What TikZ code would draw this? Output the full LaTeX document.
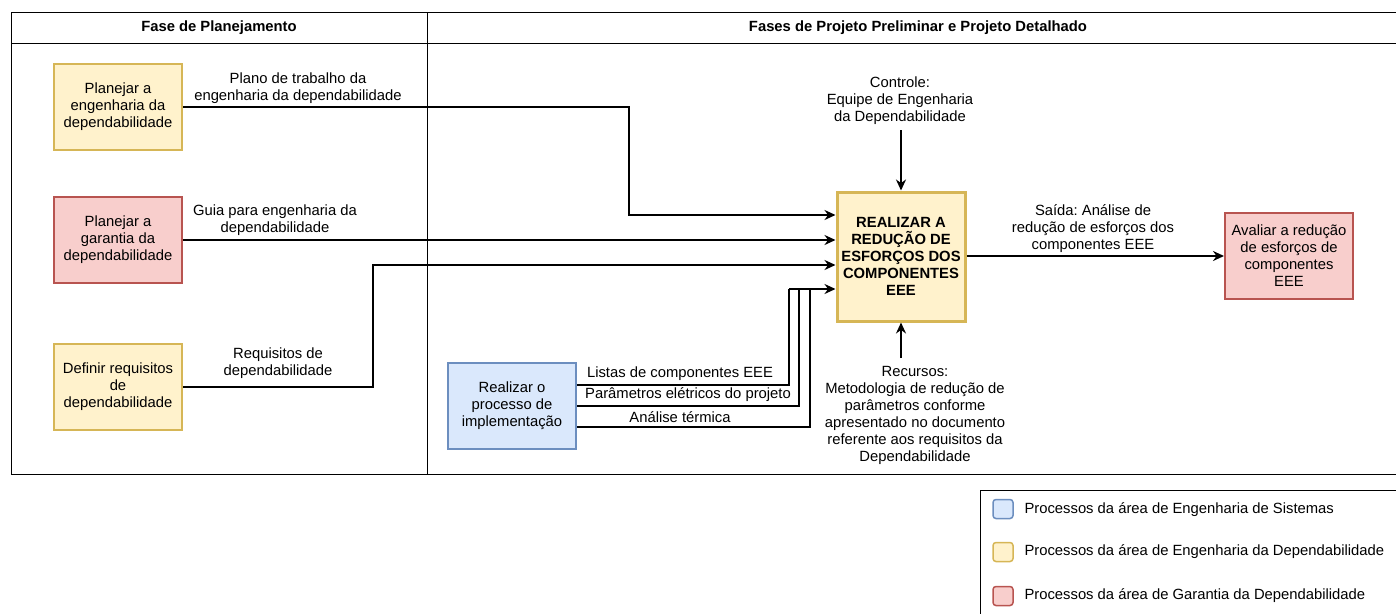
\documentclass[tikz,border=0pt]{standalone}
\usepackage{fontspec}
\setmainfont{Liberation Sans}
\usetikzlibrary{arrows.meta}
\definecolor{depfill}{HTML}{FFF2CC}
\definecolor{depline}{HTML}{D6B656}
\definecolor{garfill}{HTML}{F8CECC}
\definecolor{garline}{HTML}{B85450}
\definecolor{sysfill}{HTML}{DAE8FC}
\definecolor{sysline}{HTML}{6C8EBF}
\frenchspacing

\begin{document}
\begin{tikzpicture}[x=1pt,y=-1pt,
  font=\fontsize{14.8}{17}\selectfont,
  box/.style={draw, line width=2pt, minimum width=128pt, minimum height=86pt,
    align=center, inner sep=1pt},
  dep/.style={box, draw=depline, fill=depfill},
  gar/.style={box, draw=garline, fill=garfill},
  sys/.style={box, draw=sysline, fill=sysfill},
  flow/.style={line width=2pt, -{Stealth[length=11pt,width=10pt]}},
  link/.style={line width=2pt},
  lbl/.style={align=center, inner sep=0pt},
  swatch/.style={draw, rounded corners=3pt, line width=1.5pt,
    minimum width=20pt, minimum height=19pt, inner sep=0pt}]
  \useasboundingbox (0,0) rectangle (1396,613);

  % phases
  \draw[line width=1pt] (11,12) rectangle (1400,474);
  \draw[line width=1pt] (11,43) -- (1400,43);
  \draw[line width=1pt] (427,12) -- (427,474);
  \node[font=\bfseries\fontsize{14.8}{17}\selectfont] (planhead) at (219,28) {Fase de Planejamento};
  \node[font=\bfseries\fontsize{14.8}{17}\selectfont] (projhead) at (918,28) {Fases de Projeto Preliminar e Projeto Detalhado};

  % processes
  \node[dep] (planeng) at (118,107) {Planejar a\\engenharia da\\dependabilidade};
  \node[gar] (plangar) at (118,240) {Planejar a\\garantia da\\dependabilidade};
  \node[dep] (defreq) at (118,387) {Definir requisitos\\de\\dependabilidade};
  \node[sys] (impl) at (512,406) {Realizar o\\processo de\\implementação};
  \node[dep, line width=3pt, minimum height=129pt,
    font=\bfseries\fontsize{14.8}{17}\selectfont] (core) at (901,256.5)
    {REALIZAR A\\REDUÇÃO DE\\ESFORÇOS DOS\\COMPONENTES\\EEE};
  \node[gar] (aval) at (1289,256) {Avaliar a redução\\de esforços de\\componentes\\EEE};

  % inputs
  \coordinate (bend1) at (629,215);
  \coordinate (bend3) at (373,265);
  \coordinate (merge) at (789,289);
  \draw[flow] (planeng.east) -| (bend1) -- (core.west |- bend1);
  \draw[flow] (plangar.east) -- (core.west |- plangar.east);
  \draw[flow] (defreq.east) -| (bend3) -- (core.west |- bend3);
  \draw[link] ([yshift=21pt]impl.east) -| (merge);
  \draw[link] (impl.east) -| ([xshift=10pt]merge);
  \draw[link] ([yshift=-21pt]impl.east) -| ([xshift=21pt]merge);
  \draw[flow] (merge) -- (core.west |- merge);
  \node[lbl, anchor=south] (plano) at (298,104) {Plano de trabalho da\\engenharia da dependabilidade};
  \node[lbl, anchor=south] (guia) at (275,236) {Guia para engenharia da\\dependabilidade};
  \node[lbl, anchor=south] (req) at (278,379) {Requisitos de\\dependabilidade};
  \node[lbl, anchor=south] (listas) at (680,381) {Listas de componentes EEE};
  \node[lbl, anchor=south] (param) at (688,402) {Parâmetros elétricos do projeto};
  \node[lbl, anchor=south] (termica) at (680,423) {Análise térmica};

  % control, resources, output
  \node[lbl] (ctrl) at (900,101) {Controle:\\Equipe de Engenharia\\da Dependabilidade};
  \coordinate (ctrlin) at (901,130);
  \draw[flow] (ctrlin) -- (core.north);
  \node[lbl] (recursos) at (915,415) {Recursos:\\Metodologia de redução de\\parâmetros conforme\\apresentado no documento\\referente aos requisitos da\\Dependabilidade};
  \coordinate (resin) at (901,358);
  \draw[flow] (resin) -- (core.south);
  \draw[flow] (core.east |- aval.west) -- (aval.west);
  \node[lbl] (saida) at (1093,229) {Saída: Análise de\\redução de esforços dos\\componentes EEE};

  % legend
  \draw[line width=1pt] (980,490) rectangle (1400,620);
  \node[swatch, draw=sysline, fill=sysfill] (legsys) at (1003,509) {};
  \node[swatch, draw=depline, fill=depfill] (legdep) at (1003,552) {};
  \node[swatch, draw=garline, fill=garfill] (leggar) at (1003,596) {};
  \node[anchor=west] at (1021,510) {Processos da área de Engenharia de Sistemas};
  \node[anchor=west] at (1021,552) {Processos da área de Engenharia da Dependabilidade};
  \node[anchor=west] at (1021,596) {Processos da área de Garantia da Dependabilidade};
\end{tikzpicture}
\end{document}
